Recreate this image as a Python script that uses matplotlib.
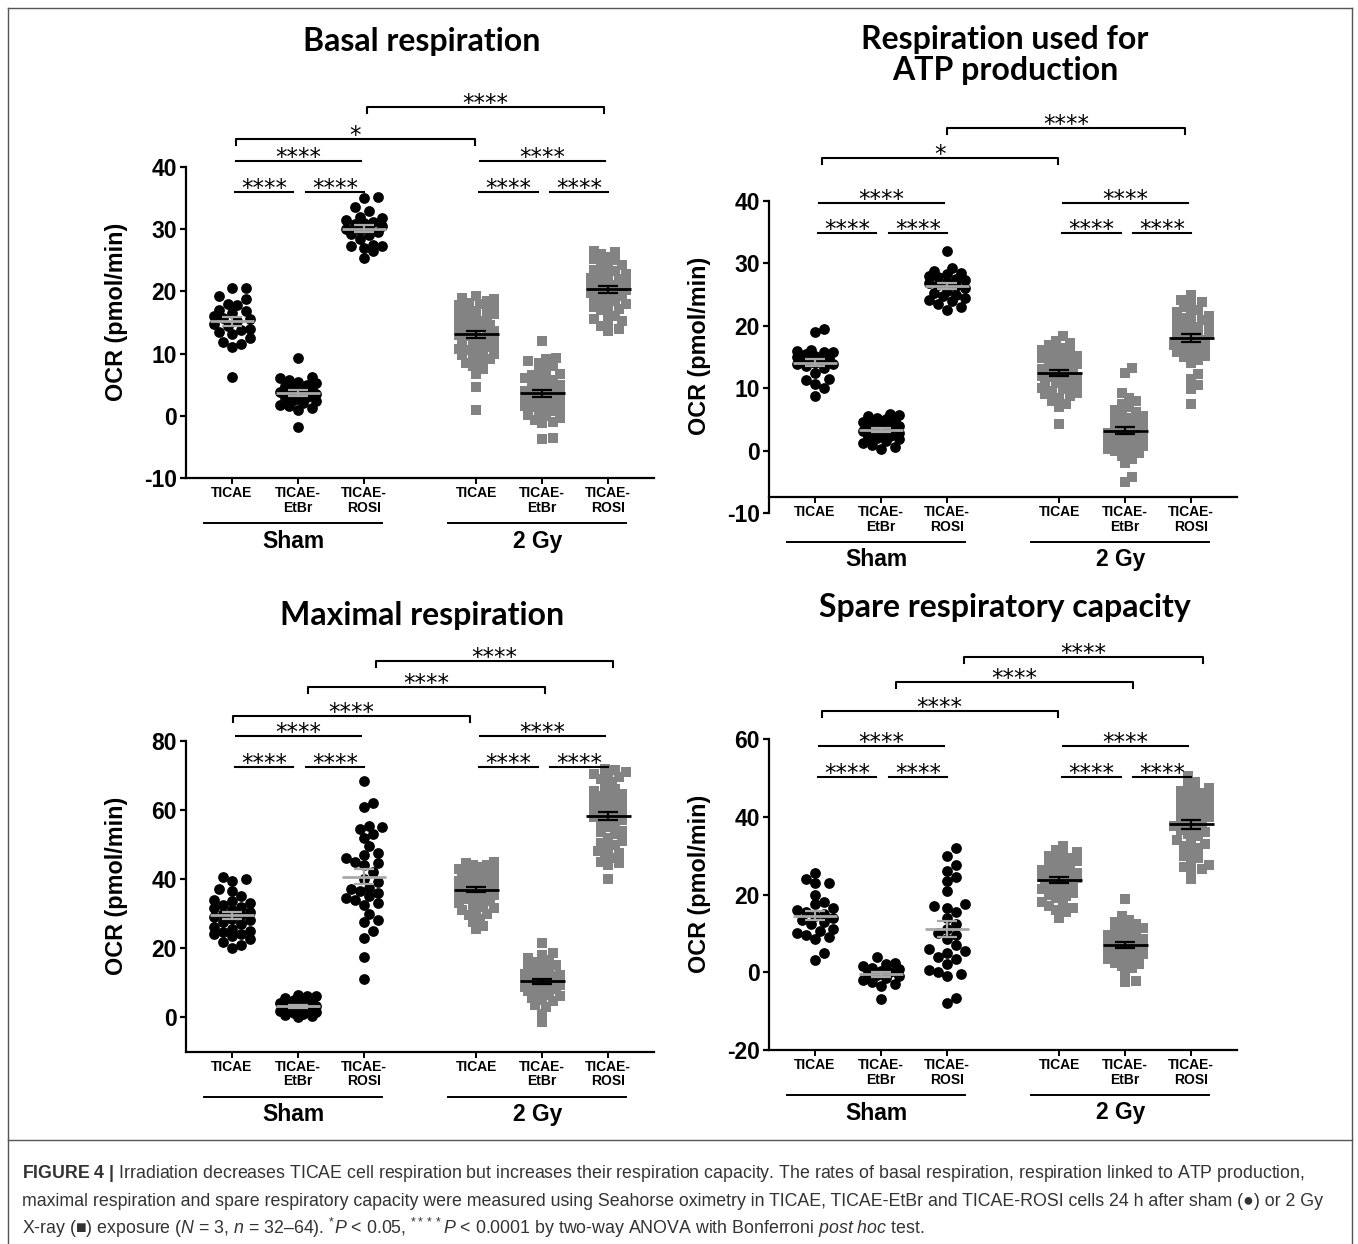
import numpy as np
import matplotlib
matplotlib.use("Agg")
import matplotlib.pyplot as plt
from matplotlib import transforms
from matplotlib.lines import Line2D

plt.rcParams["font.family"] = ["Liberation Sans", "DejaVu Sans"]
plt.rcParams["mathtext.fontset"] = "custom"
plt.rcParams["mathtext.rm"] = "Liberation Sans"
plt.rcParams["mathtext.it"] = "Liberation Sans:italic"
plt.rcParams["mathtext.bf"] = "Liberation Sans:bold"

W, H, DPI = 1358, 1244, 100

cell_lines = ["TICAE", "TICAE-\nEtBr", "TICAE-\nROSI"]
treatments = ["Sham", "2 Gy"]
group_start = [0.0, 3.7]

# --- Basal respiration (OCR, pmol/min) ---
basal_sham_ticae = [20.5, 20.5, 19.2, 18.8, 18.0, 17.8, 17.0, 16.8, 16.5, 16.0, 15.8, 15.5,
                    15.2, 14.8, 14.5, 14.0, 13.8, 13.5, 13.2, 12.5, 11.8, 11.5, 11.0, 6.3]
basal_sham_etbr = [9.3, 6.2, 6.0, 5.8, 5.5, 5.2, 5.0, 4.8, 4.5, 4.3, 4.0, 3.8, 3.6, 3.5, 3.3,
                   3.0, 2.8, 2.5, 2.3, 2.0, 1.8, 1.5, 1.2, 1.0, -1.8]
basal_sham_rosi = [35.2, 35.0, 33.5, 33.0, 32.0, 31.8, 31.5, 31.2, 31.0, 30.8, 30.5, 30.2,
                   30.0, 29.8, 29.5, 29.2, 29.0, 28.5, 27.5, 27.3, 27.3, 27.0, 26.5, 25.3]
basal_gy_ticae = [19.2, 19.0, 18.7, 18.5, 18.2, 18.0, 17.8, 17.5, 17.2, 17.0, 16.8, 16.5, 16.3,
                  16.0, 15.8, 15.5, 15.3, 15.0, 14.8, 14.6, 14.4, 14.2, 14.0, 13.8, 13.6, 13.4,
                  13.2, 13.0, 12.8, 12.6, 12.4, 12.2, 12.0, 11.8, 11.5, 11.2, 11.0, 10.8, 10.5,
                  10.2, 10.0, 10.0, 9.8, 9.5, 9.2, 9.0, 8.5, 8.0, 7.5, 6.8, 4.7, 1.0]
basal_gy_etbr = [12.0, 9.3, 9.2, 8.8, 8.5, 8.0, 7.5, 7.0, 6.8, 6.5, 6.2, 6.0, 5.8, 5.5, 5.2,
                 5.0, 4.8, 4.5, 4.3, 4.0, 3.8, 3.6, 3.4, 3.2, 3.0, 2.8, 2.6, 2.4, 2.2, 2.0, 1.8,
                 1.6, 1.4, 1.2, 1.0, 0.8, 0.5, 0.2, 0.0, -0.3, -0.6, -1.0, -1.2, -3.6, -3.8]
basal_gy_rosi = [26.5, 26.3, 26.0, 25.5, 25.2, 25.0, 24.5, 24.2, 24.0, 23.5, 23.2, 23.0, 22.8,
                 22.5, 22.2, 22.0, 21.8, 21.5, 21.2, 21.0, 20.8, 20.6, 20.4, 20.2, 20.0, 19.8,
                 19.6, 19.4, 19.2, 19.0, 18.8, 18.5, 18.2, 18.0, 17.8, 17.5, 17.2, 17.0, 16.5,
                 16.0, 15.5, 15.2, 15.0, 14.5, 14.0, 13.7]

# --- Respiration used for ATP production ---
atp_sham_ticae = [19.5, 19.0, 16.2, 16.0, 15.8, 15.8, 15.5, 15.2, 15.0, 14.8, 14.5, 14.3, 14.0,
                  13.8, 13.5, 14.2, 14.0, 13.8, 13.2, 12.5, 11.5, 11.3, 10.6, 10.0, 8.8]
atp_sham_etbr = [5.8, 5.7, 5.5, 5.3, 5.0, 4.8, 4.6, 4.4, 4.2, 4.0, 3.8, 3.6, 3.4, 3.3, 3.2, 3.1,
                 3.0, 2.8, 2.6, 2.4, 2.2, 2.0, 1.8, 1.5, 1.2, 0.9, 0.6, 0.3]
atp_sham_rosi = [32.0, 29.3, 28.8, 28.5, 28.3, 28.0, 27.8, 27.5, 27.3, 27.0, 26.8, 26.5, 26.3,
                 26.0, 25.5, 25.3, 25.0, 24.8, 24.5, 24.2, 24.0, 23.5, 23.0, 22.6]
atp_gy_ticae = [18.3, 17.5, 17.2, 17.0, 16.5, 16.2, 16.0, 15.8, 15.5, 15.2, 15.0, 14.8, 14.5,
                14.2, 14.0, 13.8, 13.5, 13.2, 13.0, 12.8, 12.6, 12.4, 12.2, 12.0, 11.8, 11.6,
                11.4, 11.2, 11.0, 10.8, 10.5, 10.2, 10.0, 9.8, 9.5, 9.2, 9.0, 8.8, 8.5, 8.0,
                7.5, 7.0, 4.2]
atp_gy_etbr = [13.2, 12.5, 9.2, 8.5, 8.0, 7.5, 7.0, 6.5, 6.2, 6.0, 5.6, 5.3, 5.0, 4.7, 4.4, 4.1,
               3.8, 3.5, 3.2, 3.0, 2.8, 2.5, 2.2, 2.0, 1.8, 1.5, 1.2, 1.0, 1.0, 0.7, 0.5, 0.4,
               0.2, 0.0, -0.2, -0.4, -0.8, -1.3, -2.0, -4.2, -5.0]
atp_gy_rosi = [25.0, 24.2, 23.8, 23.5, 23.0, 22.5, 22.2, 22.0, 21.5, 21.2, 21.0, 20.8, 20.5,
               20.2, 20.0, 19.8, 19.5, 19.2, 19.0, 18.8, 18.5, 18.2, 18.0, 17.8, 17.5, 17.2,
               17.0, 16.8, 16.5, 16.2, 16.0, 15.8, 15.5, 15.2, 15.0, 14.5, 14.0, 12.2, 11.5,
               10.5, 9.8, 7.5]

# --- Maximal respiration ---
max_sham_ticae = [40.5, 40.0, 39.3, 37.0, 36.5, 35.0, 34.0, 33.5, 33.0, 32.5, 32.0, 31.5, 31.0,
                  30.5, 30.0, 29.5, 29.0, 28.5, 28.0, 27.5, 27.0, 26.0, 25.5, 25.0, 24.5, 24.2,
                  24.0, 23.5, 22.5, 21.8, 21.0, 20.0]
max_sham_etbr = [6.5, 6.2, 6.0, 5.5, 5.0, 4.8, 4.5, 4.2, 4.0, 3.8, 3.5, 3.3, 3.0, 2.8, 2.6, 2.4,
                 2.2, 2.0, 1.8, 1.6, 1.4, 1.2, 1.0, 0.7, 0.3, 0.0]
max_sham_rosi = [68.5, 62.0, 61.0, 55.5, 55.0, 54.5, 53.0, 52.0, 49.5, 47.5, 47.0, 46.0, 45.0,
                 44.5, 44.0, 42.0, 40.0, 39.0, 37.5, 37.0, 36.5, 36.0, 35.0, 34.5, 34.0, 33.0,
                 32.5, 30.0, 28.0, 27.5, 25.0, 23.0, 17.5, 11.0]
max_gy_ticae = [45.0, 44.5, 44.0, 44.0, 43.5, 43.0, 43.0, 42.5, 42.0, 42.0, 41.5, 41.0, 41.0,
                40.5, 40.2, 40.0, 40.0, 39.5, 39.2, 39.0, 39.0, 38.5, 38.2, 38.0, 37.8, 37.5,
                37.2, 37.0, 36.8, 36.5, 36.2, 36.0, 35.5, 35.2, 35.0, 34.5, 34.2, 34.0, 33.5,
                33.0, 32.5, 32.0, 31.5, 31.0, 30.5, 30.0, 29.5, 28.5, 27.5, 26.5, 25.5]
max_gy_etbr = [21.5, 18.5, 18.0, 17.0, 16.5, 16.0, 15.5, 15.0, 14.5, 14.0, 13.5, 13.0, 12.5,
               12.2, 12.0, 11.5, 11.2, 11.0, 10.5, 10.2, 10.0, 9.8, 9.5, 9.2, 9.0, 8.8, 8.5,
               8.2, 8.0, 7.5, 7.0, 6.5, 6.0, 5.5, 5.0, 4.5, 3.5, 3.0, 1.0, -1.5]
max_gy_rosi = [72.0, 71.5, 71.0, 70.5, 70.0, 69.5, 69.0, 68.0, 67.0, 66.0, 65.5, 65.0, 64.5,
               64.0, 63.5, 63.0, 62.5, 62.0, 61.5, 61.0, 60.5, 60.0, 59.5, 59.0, 58.5, 58.0,
               57.5, 57.0, 56.5, 56.0, 55.0, 54.0, 53.5, 53.0, 52.0, 51.0, 50.5, 50.0, 49.0,
               48.0, 47.5, 47.0, 46.0, 45.0, 44.5, 44.0, 40.0]

# --- Spare respiratory capacity ---
spare_sham_ticae = [25.5, 24.0, 23.0, 23.0, 20.0, 18.0, 17.5, 16.5, 16.0, 15.5, 15.0, 14.5,
                    14.0, 13.5, 13.0, 12.5, 11.0, 10.5, 10.0, 9.5, 9.0, 8.5, 5.0, 3.2]
spare_sham_etbr = [3.8, 2.5, 2.0, 1.5, 1.2, 0.8, 0.3, 0.0, -0.3, -0.6, -1.0, -1.5, -2.0, -2.5,
                   -3.0, -3.5, -6.8]
spare_sham_rosi = [32.0, 30.0, 27.5, 26.0, 24.5, 23.5, 21.0, 17.5, 17.0, 16.5, 15.5, 14.0,
                   12.5, 11.0, 10.0, 9.5, 8.5, 7.0, 6.0, 5.5, 5.0, 4.0, 3.5, 2.0, 0.5, 0.0,
                   -0.5, -1.0, -6.5, -7.8]
spare_gy_ticae = [32.5, 31.5, 31.0, 30.5, 30.0, 29.5, 29.0, 28.5, 28.0, 27.5, 27.0, 26.5, 26.2,
                  26.0, 25.5, 25.2, 25.0, 24.8, 24.5, 24.2, 24.0, 23.8, 23.5, 23.2, 23.0, 22.5,
                  22.0, 21.5, 21.0, 20.5, 20.0, 19.5, 19.0, 18.0, 17.5, 17.0, 16.5, 16.0, 15.5,
                  14.0]
spare_gy_etbr = [18.8, 14.5, 13.5, 13.0, 12.5, 12.0, 11.5, 11.0, 10.5, 10.0, 9.8, 9.5, 9.0, 8.5,
                 8.2, 8.0, 7.5, 7.2, 7.0, 6.8, 6.5, 6.2, 6.0, 5.5, 5.0, 4.8, 4.5, 4.2, 4.0, 3.5,
                 3.0, 2.5, 2.0, 1.5, 1.0, -0.5, -2.2, -2.5]
spare_gy_rosi = [50.5, 49.0, 48.0, 47.5, 47.0, 46.5, 46.0, 45.5, 45.0, 44.5, 44.0, 43.5, 43.0,
                 42.5, 42.0, 41.5, 41.0, 40.5, 40.0, 39.5, 39.0, 38.5, 38.0, 37.5, 37.0, 36.5,
                 36.0, 35.5, 35.0, 34.0, 33.5, 33.0, 32.5, 32.0, 31.0, 30.0, 29.5, 28.5, 27.5,
                 27.0, 26.5, 26.0, 24.0]

caption_lines = [
    "$\\mathbf{FIGURE\\ 4\\ |}$ Irradiation decreases TICAE cell respiration but increases their "
    "respiration capacity. The rates of basal respiration, respiration linked to ATP production,",
    "maximal respiration and spare respiratory capacity were measured using Seahorse oximetry in "
    "TICAE, TICAE-EtBr and TICAE-ROSI cells 24 h after sham (\u25cf) or 2 Gy",
    "X-ray (\u25a0) exposure ($\\it{N}$ = 3, $\\it{n}$ = 32\u201364). $^{*}\\it{P}$ < 0.05, "
    "$^{****}\\it{P}$ < 0.0001 by two-way ANOVA with Bonferroni $\\it{post\\ hoc}$ test.",
]

panels = [
    dict(title="Basal respiration", title_xy=(422, 42),
         data=[[basal_sham_ticae, basal_sham_etbr, basal_sham_rosi],
               [basal_gy_ticae, basal_gy_etbr, basal_gy_rosi]],
         box=(185.8, 167, 654.4, 478), ylim=(-10, 40), yticks=[-10, 0, 10, 20, 30, 40],
         xaxis_at=-10, levels=(36.0, 41.0),
         brackets=[(0.06, 3.68, 44.5, "*"), (2.05, 5.64, 49.6, "****")]),
    dict(title="Respiration used for\nATP production", title_xy=(1005, 55),
         data=[[atp_sham_ticae, atp_sham_etbr, atp_sham_rosi],
               [atp_gy_ticae, atp_gy_etbr, atp_gy_rosi]],
         box=(768.8, 201, 1237.4, 513), ylim=(-10, 40), yticks=[-10, 0, 10, 20, 30, 40],
         xaxis_at=-7.4, levels=(34.9, 39.7),
         brackets=[(0.1, 3.68, 46.9, "*"), (2.0, 5.6, 51.7, "****")]),
    dict(title="Maximal respiration", title_xy=(422, 615),
         data=[[max_sham_ticae, max_sham_etbr, max_sham_rosi],
               [max_gy_ticae, max_gy_etbr, max_gy_rosi]],
         box=(185.8, 741, 654.4, 1051.5), ylim=(-10, 80), yticks=[0, 20, 40, 60, 80],
         xaxis_at=-10, levels=(72.5, 81.4),
         brackets=[(0.02, 3.6, 87.2, "****"), (1.15, 4.74, 95.7, "****"),
                   (2.18, 5.77, 103.2, "****")]),
    dict(title="Spare respiratory capacity", title_xy=(1005, 607),
         data=[[spare_sham_ticae, spare_sham_etbr, spare_sham_rosi],
               [spare_gy_ticae, spare_gy_etbr, spare_gy_rosi]],
         box=(768.8, 739, 1237.4, 1050), ylim=(-20, 60), yticks=[-20, 0, 20, 40, 60],
         xaxis_at=-20, levels=(50.2, 58.2),
         brackets=[(0.1, 3.68, 67.2, "****"), (1.23, 4.82, 74.7, "****"),
                   (2.26, 5.88, 81.1, "****")]),
]

SQ_GREY = "#838383"
MEAN_GREY = "#a8a8a8"


def swarm_offsets(values, py, diam, max_px, step):
    order = np.argsort(values)
    cands = [0.0]
    k = 1
    while k * step <= max_px:
        cands += [k * step, -k * step]
        k += 1
    placed = []
    offs = np.zeros(len(values))
    for i in order:
        y = values[i] * py
        best, best_d = 0.0, -1.0
        near = [(px, pyy) for px, pyy in placed if abs(y - pyy) < diam]
        for c in cands:
            dmin = min((np.hypot(c - px, y - pyy) for px, pyy in near), default=1e9)
            if dmin >= diam:
                best = c
                break
            if dmin > best_d:
                best_d, best = dmin, c
        placed.append((best, y))
        offs[i] = best
    return offs


def star_text(ax, x, y, s):
    tr = transforms.offset_copy(ax.transData, fig=ax.figure, y=-3, units="dots")
    ax.text(x, y, s, transform=tr, ha="center", va="baseline", fontsize=16.5,
            family="DejaVu Sans", clip_on=False)


fig = plt.figure(figsize=(W / DPI, H / DPI), dpi=DPI)

for p in panels:
    l, t, r, b = p["box"]
    ax = fig.add_axes([l / W, 1 - b / H, (r - l) / W, (b - t) / H])
    ax.set_xlim(-0.7, 6.4)
    ax.set_ylim(*p["ylim"])
    for s in ["top", "right"]:
        ax.spines[s].set_visible(False)
    for s in ["left", "bottom"]:
        ax.spines[s].set_linewidth(1.6)
    ax.spines["bottom"].set_position(("data", p["xaxis_at"]))

    x0, y0 = ax.transData.transform((0, 0))
    x1, y1 = ax.transData.transform((1, 1))
    px, py = x1 - x0, y1 - y0

    xticks = []
    for gi, g in enumerate(group_start):
        for ci, vals in enumerate(p["data"][gi]):
            xc = g + ci
            xticks.append(xc)
            v = np.asarray(vals, dtype=float)
            if gi == 0:
                offs = swarm_offsets(v, py, 9.5, 21, 4.5)
                ax.scatter(xc + offs / px, v, s=60, marker="o", color="black",
                           linewidths=0, zorder=2, clip_on=False)
                mcol = MEAN_GREY
            else:
                offs = swarm_offsets(v, py, 7.5, 19, 3.5)
                ax.scatter(xc + offs / px, v, s=46, marker="s", color=SQ_GREY,
                           linewidths=0, zorder=2, clip_on=False)
                mcol = "black"
            m = v.mean()
            sem = v.std(ddof=1) / np.sqrt(len(v))
            ax.plot([xc - 0.34, xc + 0.34], [m, m], color=mcol, lw=2.0, zorder=4,
                    solid_capstyle="butt")
            ax.errorbar([xc], [m], yerr=[sem], color=mcol, lw=1.6, capsize=7,
                        capthick=1.6, zorder=4)

    ax.set_xticks(xticks)
    ax.set_xticklabels(cell_lines * 2, fontsize=10, fontweight="bold", linespacing=1.05)
    ax.tick_params(axis="x", direction="out", length=4, width=1.4, pad=2)
    ax.set_yticks(p["yticks"])
    ax.set_yticklabels([str(v) for v in p["yticks"]], fontsize=16.5, fontweight="bold")
    ax.tick_params(axis="y", direction="out", length=4.5, width=1.6, pad=2)
    ax.set_ylabel("OCR (pmol/min)", fontsize=16.8, fontweight="bold")
    ax.yaxis.set_label_coords(-0.124, 0.535)

    # treatment group labels under the axis
    tr_line = transforms.offset_copy(ax.transData, fig=fig, y=-45, units="dots")
    tr_lab = transforms.offset_copy(ax.transData, fig=fig, y=-63, units="dots")
    for g, name in zip(group_start, treatments):
        ax.plot([g - 0.42, g + 2.27], [p["xaxis_at"]] * 2, color="black", lw=1.4,
                transform=tr_line, clip_on=False)
        ax.text(g + 0.93, p["xaxis_at"], name, transform=tr_lab, ha="center", va="center",
                fontsize=16.5, fontweight="bold", clip_on=False)

    # significance lines within each treatment
    lv1, lv2 = p["levels"]
    for g in group_start:
        for a, bb in [(0.04, 0.93), (1.12, 2.0)]:
            ax.plot([g + a, g + bb], [lv1, lv1], color="black", lw=1.5, clip_on=False)
            star_text(ax, g + (a + bb) / 2, lv1, "****")
        ax.plot([g + 0.06, g + 1.95], [lv2, lv2], color="black", lw=1.5, clip_on=False)
        star_text(ax, g + 1.0, lv2, "****")

    # brackets between treatments
    tick = 6 / py
    for a, bb, yv, s in p["brackets"]:
        ax.plot([a, a, bb, bb], [yv - tick, yv, yv, yv - tick], color="black", lw=1.5,
                clip_on=False)
        star_text(ax, (a + bb) / 2, yv, s)

    tx, ty = p["title_xy"]
    fig.text(tx / W, 1 - ty / H, p["title"], ha="center", va="center", fontsize=23,
             fontweight="bold", family="Lato", linespacing=1.05)

# frame and caption
frame = dict(color="#555555", lw=1.0)
fig.add_artist(Line2D([8 / W, 1352 / W], [1 - 8 / H, 1 - 8 / H], **frame))
fig.add_artist(Line2D([8 / W, 8 / W], [0, 1 - 8 / H], **frame))
fig.add_artist(Line2D([1352 / W, 1352 / W], [0, 1 - 8 / H], **frame))
fig.add_artist(Line2D([8 / W, 1352 / W], [1 - 1140 / H, 1 - 1140 / H], **frame))
for line, yy in zip(caption_lines, [1173, 1201, 1228]):
    fig.text(22 / W, 1 - yy / H, line, ha="left", va="center", fontsize=12.75,
             color="#333333")

fig.savefig("out.png", dpi=DPI)
